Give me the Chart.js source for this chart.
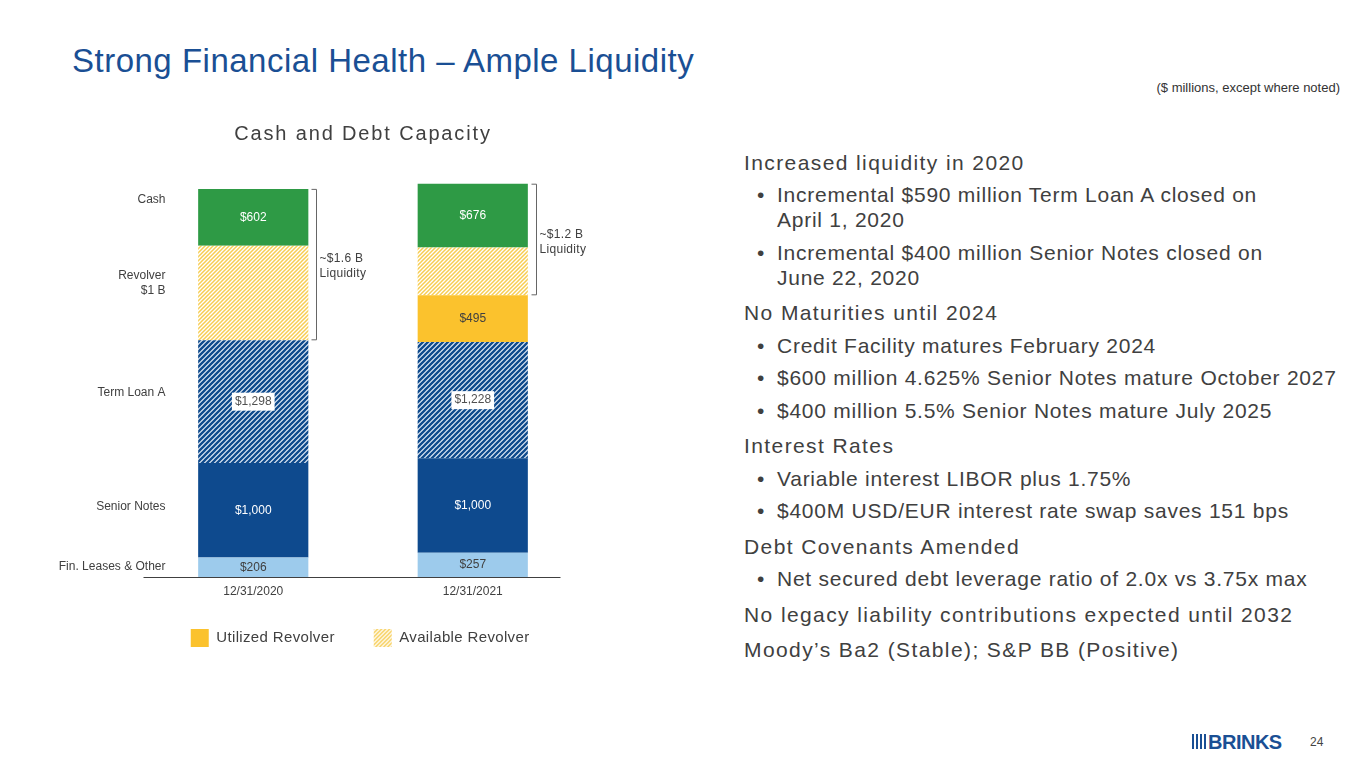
<!DOCTYPE html>
<html>
<head>
<meta charset="utf-8">
<script src="https://cdn.jsdelivr.net/npm/chart.js@4.4.1/dist/chart.umd.min.js"></script>
<style>
  body { margin: 0; width: 1365px; height: 768px; background: #fff; position: relative; overflow: hidden;
         font-family: "Liberation Sans", Arial, sans-serif; color: #404040; }
  h1 { position: absolute; left: 72px; top: 41.5px; margin: 0; font-size: 33px; line-height: 38px; font-weight: normal;
       letter-spacing: 0.5px; color: #1a4f94; }
  .units { position: absolute; right: 25px; top: 80px; font-size: 13px; color: #333; }
  #wrap { position: absolute; left: 40px; top: 115px; width: 580px; height: 560px; }
  .notes { position: absolute; left: 744px; top: 139px; width: 620px; font-size: 21px; white-space: nowrap; }
  .notes .h { margin: 10.5px 0 0 0; line-height: 25px; letter-spacing: 1.4px; }
  .notes .b { position: relative; padding-left: 33px; margin: 7.5px 0 0 0; line-height: 25px; letter-spacing: 0.75px; }
  .notes .b:before { content: "\2022"; position: absolute; left: 13px; }
  .logo { position: absolute; left: 1192px; top: 731px; color: #1a4f94; font-weight: bold; font-size: 20px; letter-spacing: -0.5px; }
  .logo span { display: inline-block; width: 2px; height: 15px; background: #1a4f94; margin-right: 2px; }
  .page { position: absolute; left: 1310px; top: 735px; font-size: 12px; color: #444; }
</style>
</head>
<body>
<h1>Strong Financial Health – Ample Liquidity</h1>
<div class="units">($ millions, except where noted)</div>
<div id="wrap"><canvas id="debtChart"></canvas></div>

<div class="notes">
  <div class="h">Increased liquidity in 2020</div>
  <div class="b">Incremental $590 million Term Loan A closed on<br>April 1, 2020</div>
  <div class="b">Incremental $400 million Senior Notes closed on<br>June 22, 2020</div>
  <div class="h">No Maturities until 2024</div>
  <div class="b">Credit Facility matures February 2024</div>
  <div class="b">$600 million 4.625% Senior Notes mature October 2027</div>
  <div class="b">$400 million 5.5% Senior Notes mature July 2025</div>
  <div class="h">Interest Rates</div>
  <div class="b">Variable interest LIBOR plus 1.75%</div>
  <div class="b">$400M USD/EUR interest rate swap saves 151 bps</div>
  <div class="h">Debt Covenants Amended</div>
  <div class="b">Net secured debt leverage ratio of 2.0x vs 3.75x max</div>
  <div class="h">No legacy liability contributions expected until 2032</div>
  <div class="h">Moody’s Ba2 (Stable); S&amp;P BB (Positive)</div>
</div>

<div class="logo"><span></span><span></span><span></span><span></span>BRINKS</div>
<div class="page">24</div>

<script>
const categories = ['12/31/2020', '12/31/2021'];
const finLeases = [206, 257];
const seniorNotes = [1000, 1000];
const termLoanA = [1298, 1228];
const utilizedRevolver = [0, 495];
const availableRevolver = [1000, 505];
const cash = [602, 676];

const rowLabels = [['Fin. Leases & Other'], ['Senior Notes'], ['Term Loan A'], ['Revolver', '$1 B'], ['Cash']];
const rowDatasets = [[0], [1], [2], [3, 4], [5]];
const liquidityNotes = [['~$1.6 B', 'Liquidity'], ['~$1.2 B', 'Liquidity']];

function stripes(bg, fg, size, width) {
  const c = document.createElement('canvas');
  c.width = c.height = size;
  const g = c.getContext('2d');
  g.fillStyle = bg;
  g.fillRect(0, 0, size, size);
  g.strokeStyle = fg;
  g.lineWidth = width;
  g.beginPath();
  g.moveTo(0, size); g.lineTo(size, 0);
  g.moveTo(-1, 1); g.lineTo(1, -1);
  g.moveTo(size - 1, size + 1); g.lineTo(size + 1, size - 1);
  g.stroke();
  return g.createPattern(c, 'repeat');
}

const blueHatch = stripes('#e4edf8', '#0f4a8c', 5, 2.3);
const yellowHatch = stripes('#ffffff', '#f7cd52', 4, 1.5);

// label style per dataset, null = no label
const labelStyles = [
  { color: '#404040' },
  { color: '#ffffff' },
  { color: '#505050', box: '#ffffff' },
  { color: '#404040' },
  null,
  { color: '#ffffff' }
];

const money = v => '$' + v.toLocaleString('en-US');

// wrap a layout box's draw: letter spacing plus a small nudge
function tweak(box, ctx, spacing, dx, dy) {
  const draw = box.draw.bind(box);
  box.draw = function (area) {
    ctx.save();
    ctx.letterSpacing = spacing;
    ctx.translate(dx, dy);
    draw(area);
    ctx.restore();
  };
}

const labelsPlugin = {
  id: 'segmentLabels',
  afterInit(chart) {
    tweak(chart.titleBlock, chart.ctx, '1.85px', 0, 0);
    tweak(chart.legend, chart.ctx, '0.35px', -9, -15.4);
  },
  afterDatasetsDraw(chart) {
    const ctx = chart.ctx;
    const yScale = chart.scales.y;
    const area = chart.chartArea;
    ctx.save();
    ctx.font = '12px "Liberation Sans", Arial, sans-serif';
    ctx.textAlign = 'center';
    ctx.textBaseline = 'middle';

    // values inside segments
    chart.data.datasets.forEach((ds, i) => {
      const st = labelStyles[i];
      if (!st) return;
      chart.getDatasetMeta(i).data.forEach((bar, j) => {
        const v = ds.data[j];
        if (!v) return;
        const y = (bar.y + bar.base) / 2;
        const txt = money(v);
        if (st.box) {
          const w = ctx.measureText(txt).width + 6;
          ctx.fillStyle = st.box;
          ctx.fillRect(bar.x - w / 2, y - 9, w, 18);
        }
        ctx.fillStyle = st.color;
        ctx.fillText(txt, bar.x, y);
      });
    });

    // row labels on the left, near the middle of the first stack (nudged up a little)
    const sums = chart.data.datasets.map(ds => ds.data[0]);
    ctx.textAlign = 'right';
    ctx.fillStyle = '#404040';
    const lx = area.left + 22;
    rowDatasets.forEach((idx, r) => {
      const lo = sums.slice(0, idx[0]).reduce((a, b) => a + b, 0);
      const hi = lo + idx.reduce((a, k) => a + sums[k], 0);
      const lines = rowLabels[r];
      const y = yScale.getPixelForValue((lo + hi) / 2 * 1.05) + (lines.length - 1) * 4;
      lines.forEach((t, k) => ctx.fillText(t, lx, y + (k - (lines.length - 1) / 2) * 15));
    });

    // liquidity brackets spanning available revolver + cash
    ctx.textAlign = 'left';
    ctx.strokeStyle = '#666';
    ctx.lineWidth = 1;
    categories.forEach((c, j) => {
      const bar = chart.getDatasetMeta(5).data[j];
      const lo = chart.data.datasets.slice(0, 4).reduce((a, ds) => a + ds.data[j], 0);
      const hi = chart.data.datasets.reduce((a, ds) => a + ds.data[j], 0);
      const yTop = yScale.getPixelForValue(hi);
      const yBot = yScale.getPixelForValue(lo);
      const bx = Math.round(bar.x + bar.width / 2 + 8) + 0.5;
      ctx.beginPath();
      ctx.moveTo(bx - 5, yTop + 0.5);
      ctx.lineTo(bx, yTop + 0.5);
      ctx.lineTo(bx, yBot - 0.5);
      ctx.lineTo(bx - 5, yBot - 0.5);
      ctx.stroke();
      const ty = yTop + (yBot - yTop) * 0.46;
      ctx.fillStyle = '#404040';
      ctx.letterSpacing = '0.3px';
      liquidityNotes[j].forEach((t, k) => ctx.fillText(t, bx + 3, ty + k * 15));
      ctx.letterSpacing = '0px';
    });

    // baseline
    ctx.strokeStyle = '#404040';
    ctx.beginPath();
    ctx.moveTo(area.left, area.bottom + 0.5);
    ctx.lineTo(area.right - 22, area.bottom + 0.5);
    ctx.stroke();
    ctx.restore();
  }
};

new Chart(document.getElementById('debtChart'), {
  type: 'bar',
  data: {
    labels: categories,
    datasets: [
      { label: 'Fin. Leases & Other', data: finLeases, backgroundColor: '#9dcbec' },
      { label: 'Senior Notes', data: seniorNotes, backgroundColor: '#0e4a8e' },
      { label: 'Term Loan A', data: termLoanA, backgroundColor: blueHatch },
      { label: 'Utilized Revolver', data: utilizedRevolver, backgroundColor: '#fbc22d' },
      { label: 'Available Revolver', data: availableRevolver, backgroundColor: yellowHatch },
      { label: 'Cash', data: cash, backgroundColor: '#2e9a45' }
    ]
  },
  options: {
    responsive: true,
    maintainAspectRatio: false,
    animation: false,
    layout: { padding: { left: 103.5, right: 37.5, top: 0, bottom: 2.6 } },
    datasets: { bar: { categoryPercentage: 1, barPercentage: 0.502, borderWidth: 0 } },
    scales: {
      x: {
        stacked: true,
        grid: { display: false, drawTicks: false },
        border: { display: false },
        ticks: { color: '#404040', padding: 7, font: { size: 12, family: '"Liberation Sans", Arial, sans-serif' } }
      },
      y: { stacked: true, display: false, min: 0, max: 4400 }
    },
    plugins: {
      title: {
        display: true,
        text: 'Cash and Debt Capacity',
        color: '#404040',
        font: { size: 20, weight: 'normal', family: '"Liberation Sans", Arial, sans-serif' },
        padding: { top: 7.6, bottom: 14.5 }
      },
      legend: {
        position: 'bottom',
        labels: {
          filter: item => item.datasetIndex === 3 || item.datasetIndex === 4,
          boxWidth: 18,
          boxHeight: 18,
          padding: 39,
          color: '#404040',
          font: { size: 15, family: '"Liberation Sans", Arial, sans-serif' }
        }
      },
      tooltip: { enabled: false }
    }
  },
  plugins: [labelsPlugin]
});
</script>
</body>
</html>
